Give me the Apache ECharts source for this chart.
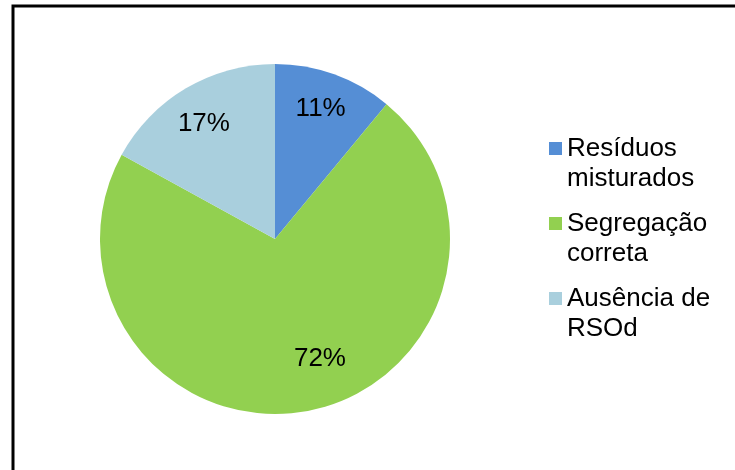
<!DOCTYPE html>
<html>
<head>
<meta charset="utf-8">
<script src="https://cdn.jsdelivr.net/npm/echarts@6/dist/echarts.min.js"></script>
<style>
html,body{margin:0;padding:0;background:#fff;}
#chart{width:735px;height:470px;}
</style>
</head>
<body>
<div id="chart"></div>
<script>
var categories = ['Resíduos misturados', 'Segregação correta', 'Ausência de RSOd'];
var legendLines = ['Resíduos\nmisturados', 'Segregação\ncorreta', 'Ausência de\nRSOd'];
var values = [11, 72, 17];
var colors = ['#558ED5', '#92D050', '#A9CFDD'];
var labelShift = [[15, -45], [28, 31], [-25, -37]];

var chart = echarts.init(document.getElementById('chart'), null, {renderer: 'canvas'});
var font = 'Arial, "Liberation Sans", sans-serif';

var data = categories.map(function (c, i) {
  return {name: c, value: values[i], itemStyle: {color: colors[i]}};
});

chart.setOption({
  animation: false,
  backgroundColor: '#fff',
  graphic: [{
    type: 'rect',
    shape: {x: 13, y: 6, width: 900, height: 700},
    style: {fill: 'none', stroke: '#000', lineWidth: 3},
    silent: true
  }],
  legend: {
    orient: 'vertical',
    left: 549,
    top: 103.5,
    padding: 0,
    itemGap: -15,
    itemWidth: 13,
    itemHeight: 13,
    icon: 'rect',
    selectedMode: false,
    data: categories,
    formatter: function (name) {
      // leading empty line keeps the marker level with the first text line
      return '\n' + legendLines[categories.indexOf(name)];
    },
    textStyle: {
      fontFamily: font,
      fontSize: 26,
      lineHeight: 30,
      color: '#000'
    }
  },
  series: [{
    type: 'pie',
    center: [275, 239],
    radius: [0, 175],
    startAngle: 90,
    clockwise: true,
    avoidLabelOverlap: false,
    data: data,
    itemStyle: {borderWidth: 0},
    emphasis: {disabled: true},
    label: {
      show: true,
      position: 'inside',
      formatter: '{c}%',
      fontFamily: font,
      fontSize: 26,
      color: '#000'
    },
    labelLine: {show: false},
    labelLayout: function (params) {
      var s = labelShift[params.dataIndex];
      return {dx: s[0], dy: s[1]};
    }
  }]
});
</script>
</body>
</html>
